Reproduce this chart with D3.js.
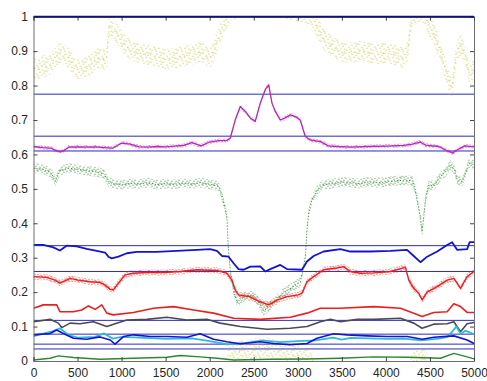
<!DOCTYPE html>
<html>
<head>
<meta charset="utf-8">
<script src="https://cdn.jsdelivr.net/npm/d3@7"></script>
<style>
  body { margin: 0; background: #fff; }
  svg text { font-family: "Liberation Sans", Arial, sans-serif; }
</style>
</head>
<body>
<div id="chart"></div>
<script>
// values, as [sample, value] pairs
const xTicks = [0, 500, 1000, 1500, 2000, 2500, 3000, 3500, 4000, 4500, 5000];
const yTicks = [0, 0.1, 0.2, 0.3, 0.4, 0.5, 0.6, 0.7, 0.8, 0.9, 1];
const refLevels = [1.0, 0.775, 0.653, 0.61, 0.335, 0.26, 0.118, 0.078, 0.049, 0.035];

// yellow goes above 1 and shows again at the bottom (wraps)
const yellow = [[0,0.85],[50,0.845],[100,0.86],[150,0.855],[200,0.865],[250,0.88],[300,0.895],[350,0.89],[400,0.88],[450,0.86],[500,0.845],[550,0.85],[600,0.855],[650,0.86],[700,0.875],[750,0.88],[800,0.875],[830,0.88],[860,0.975],[900,0.962],[950,0.95],[1000,0.933],[1050,0.915],[1100,0.904],[1200,0.895],[1300,0.89],[1400,0.885],[1500,0.875],[1600,0.88],[1700,0.885],[1800,0.89],[1900,0.9],[2000,0.88],[2050,0.9],[2100,0.94],[2150,0.97],[2200,1.0],[2250,1.02],[2300,1.025],[2400,1.032],[2500,1.035],[2600,1.04],[2700,1.037],[2800,1.025],[2900,1.02],[3000,1.015],[3100,1.006],[3160,1.0],[3200,0.98],[3250,0.955],[3300,0.933],[3400,0.91],[3500,0.9],[3600,0.895],[3700,0.9],[3800,0.895],[3900,0.89],[4000,0.895],[4100,0.89],[4200,0.88],[4250,0.9],[4280,0.98],[4320,1.005],[4400,1.015],[4450,1.005],[4480,0.975],[4530,0.96],[4600,0.913],[4650,0.87],[4700,0.826],[4750,0.79],[4780,0.85],[4800,0.894],[4850,0.918],[4900,0.89],[4950,0.826],[5000,0.85]];

const magenta = [[0,0.623],[100,0.62],[200,0.618],[250,0.612],[300,0.607],[350,0.612],[400,0.621],[500,0.622],[600,0.621],[700,0.622],[800,0.62],[900,0.618],[950,0.626],[1000,0.633],[1100,0.63],[1200,0.622],[1300,0.621],[1400,0.623],[1500,0.622],[1600,0.624],[1700,0.626],[1800,0.634],[1900,0.625],[2000,0.636],[2100,0.64],[2200,0.641],[2233,0.647],[2290,0.7],[2347,0.739],[2403,0.725],[2460,0.706],[2517,0.696],[2574,0.749],[2630,0.788],[2670,0.802],[2707,0.749],[2744,0.725],[2801,0.7],[2858,0.706],[2915,0.715],[2972,0.71],[3028,0.7],[3085,0.652],[3142,0.642],[3256,0.637],[3347,0.625],[3445,0.623],[3600,0.621],[3800,0.623],[4000,0.624],[4200,0.626],[4300,0.63],[4390,0.636],[4450,0.627],[4600,0.623],[4700,0.61],[4760,0.604],[4800,0.612],[4900,0.625],[5000,0.622]];

const greenMid = [[0,0.56],[100,0.558],[200,0.546],[250,0.522],[300,0.553],[400,0.56],[500,0.557],[600,0.553],[700,0.55],[800,0.544],[850,0.52],[900,0.515],[1000,0.512],[1100,0.516],[1200,0.514],[1300,0.518],[1400,0.512],[1500,0.515],[1600,0.513],[1700,0.517],[1800,0.514],[1900,0.518],[2000,0.513],[2100,0.508],[2150,0.47],[2195,0.42],[2210,0.332],[2233,0.265],[2270,0.206],[2310,0.17],[2400,0.188],[2500,0.19],[2560,0.17],[2610,0.145],[2660,0.155],[2720,0.168],[2835,0.197],[2950,0.216],[3030,0.23],[3085,0.3],[3104,0.38],[3123,0.43],[3160,0.468],[3220,0.497],[3275,0.51],[3400,0.516],[3500,0.52],[3600,0.518],[3700,0.515],[3800,0.52],[3900,0.518],[4000,0.52],[4100,0.523],[4200,0.525],[4300,0.524],[4330,0.5],[4355,0.468],[4390,0.42],[4411,0.375],[4430,0.42],[4450,0.47],[4485,0.51],[4550,0.51],[4620,0.536],[4680,0.55],[4730,0.57],[4780,0.555],[4810,0.526],[4866,0.52],[4910,0.55],[4940,0.575],[5000,0.57]];

const blueHigh = [[0,0.337],[112,0.337],[225,0.33],[300,0.321],[377,0.335],[490,0.333],[604,0.326],[718,0.32],[812,0.315],[850,0.303],[888,0.298],[964,0.303],[1059,0.313],[1172,0.317],[1400,0.317],[1627,0.32],[1855,0.323],[2005,0.325],[2082,0.32],[2139,0.305],[2214,0.303],[2271,0.284],[2327,0.267],[2384,0.265],[2460,0.274],[2574,0.275],[2630,0.26],[2688,0.267],[2801,0.279],[2877,0.267],[3048,0.265],[3104,0.289],[3180,0.305],[3293,0.318],[3483,0.325],[3597,0.318],[3824,0.318],[4051,0.32],[4240,0.323],[4316,0.305],[4392,0.287],[4468,0.303],[4582,0.318],[4695,0.337],[4752,0.345],[4790,0.33],[4809,0.323],[4922,0.325],[4950,0.345],[5000,0.345]];

const redHigh = [[0,0.245],[150,0.243],[244,0.235],[300,0.226],[415,0.24],[510,0.235],[642,0.23],[756,0.228],[812,0.221],[870,0.208],[907,0.207],[964,0.226],[1040,0.25],[1134,0.255],[1286,0.257],[1475,0.257],[1665,0.26],[1855,0.265],[2082,0.263],[2195,0.255],[2252,0.235],[2290,0.206],[2327,0.192],[2450,0.187],[2574,0.172],[2670,0.163],[2764,0.177],[2877,0.187],[3009,0.192],[3048,0.197],[3104,0.23],[3180,0.245],[3293,0.265],[3445,0.27],[3520,0.274],[3597,0.26],[3710,0.255],[3861,0.256],[4051,0.26],[4222,0.272],[4260,0.235],[4316,0.211],[4373,0.197],[4411,0.177],[4468,0.2],[4582,0.216],[4695,0.235],[4771,0.24],[4847,0.211],[4922,0.245],[5000,0.26]];

const redLow = [[0,0.153],[112,0.163],[263,0.163],[300,0.143],[453,0.143],[547,0.148],[623,0.16],[700,0.15],[775,0.163],[832,0.139],[907,0.134],[1134,0.141],[1362,0.153],[1589,0.158],[1816,0.148],[2044,0.139],[2271,0.124],[2574,0.121],[2915,0.127],[3104,0.139],[3256,0.153],[3483,0.153],[3861,0.158],[4165,0.153],[4316,0.139],[4411,0.129],[4543,0.141],[4695,0.143],[4771,0.166],[4847,0.158],[4922,0.141],[5000,0.141]];

const gray = [[0,0.114],[188,0.121],[282,0.11],[320,0.097],[415,0.11],[528,0.108],[680,0.114],[832,0.1],[926,0.108],[1059,0.119],[1286,0.121],[1514,0.127],[1741,0.119],[1968,0.121],[2119,0.11],[2347,0.1],[2650,0.092],[2915,0.095],[3104,0.1],[3256,0.114],[3370,0.121],[3483,0.114],[3673,0.121],[3861,0.121],[4165,0.124],[4316,0.11],[4411,0.095],[4543,0.107],[4695,0.108],[4771,0.114],[4847,0.085],[4922,0.108],[5000,0.112]];

const cyan = [[0,0.072],[200,0.085],[300,0.095],[400,0.075],[500,0.068],[700,0.07],[800,0.08],[900,0.065],[1000,0.07],[1200,0.068],[1500,0.064],[1800,0.066],[2000,0.058],[2200,0.048],[2400,0.052],[2600,0.06],[2800,0.055],[3000,0.058],[3200,0.06],[3400,0.068],[3500,0.062],[3600,0.067],[3800,0.066],[4000,0.064],[4200,0.065],[4400,0.06],[4600,0.065],[4700,0.07],[4800,0.1],[4850,0.078],[4900,0.088],[5000,0.078]];

const blueLow = [[0,0.076],[188,0.08],[263,0.09],[339,0.08],[453,0.066],[604,0.063],[756,0.07],[870,0.061],[926,0.049],[1021,0.071],[1134,0.076],[1324,0.071],[1514,0.071],[1741,0.069],[1892,0.079],[2044,0.063],[2195,0.056],[2347,0.05],[2574,0.056],[2725,0.051],[2915,0.047],[3104,0.051],[3218,0.066],[3407,0.079],[3559,0.076],[3786,0.073],[4014,0.071],[4241,0.071],[4411,0.063],[4543,0.069],[4771,0.073],[4922,0.061],[5000,0.051]];

const greenLow = [[0,0.003],[188,0.008],[282,0.015],[453,0.01],[756,0.005],[1134,0.008],[1514,0.011],[1665,0.016],[1892,0.012],[2082,0.008],[2271,0.003],[2700,0.005],[3104,0.006],[3483,0.008],[3861,0.012],[4241,0.011],[4620,0.008],[4771,0.022],[4922,0.012],[5000,0.006]];

const W = 487, H = 381;
const margin = { top: 16.7, right: 13, bottom: 20, left: 33.5 };
const width = W - margin.left - margin.right,
  height = H - margin.top - margin.bottom;

const svg = d3.select("#chart").append("svg")
  .attr("width", W)
  .attr("height", H);
const defs = svg.append("defs");
defs.append("clipPath").attr("id", "plotClip")
  .append("rect").attr("width", width).attr("height", height);

// speckle textures for the noisy series
function dotPattern(id, color, tw, th, dots) {
  const p = defs.append("pattern").attr("id", id)
    .attr("patternUnits", "userSpaceOnUse")
    .attr("width", tw).attr("height", th);
  dots.forEach(d => p.append("rect")
    .attr("x", d[0]).attr("y", d[1])
    .attr("width", 1).attr("height", 1)
    .attr("fill", color));
}
dotPattern("pYellow", "#c4c22c", 13, 9,
  [[0, 0], [6, 1], [10, 2], [3, 3], [8, 4], [12, 5], [1, 6], [5, 7], [9, 8], [11, 0], [4, 5]]);
dotPattern("pGreen", "#2a8a2a", 11, 7,
  [[0, 0], [4, 0], [8, 1], [2, 2], [6, 3], [10, 3], [1, 4], [5, 5], [9, 5], [3, 6], [7, 6]]);
dotPattern("pRed", "#e82020", 9, 5,
  [[0, 0], [3, 0], [6, 1], [1, 2], [4, 2], [7, 3], [2, 4], [5, 4], [8, 4]]);
dotPattern("pMagenta", "#b828b8", 9, 5,
  [[0, 0], [3, 0], [6, 1], [1, 2], [4, 2], [7, 3], [2, 4], [5, 4], [8, 4]]);

const g = svg.append("g")
  .attr("transform", "translate(" + margin.left + "," + margin.top + ")");

let x = d3.scaleLinear().domain([0, 5000]).range([0, width]);
let y = d3.scaleLinear().domain([0, 1]).range([height, 0]);

const plot = g.append("g").attr("clip-path", "url(#plotClip)");

// reference levels
plot.selectAll(".ref")
  .data(refLevels.slice(1))
  .enter().append("line")
  .attr("class", "ref")
  .attr("x1", 0).attr("x2", width)
  .attr("y1", d => y(d)).attr("y2", d => y(d))
  .style("stroke", "#2a2ac4")
  .style("stroke-width", 1);

const series = [
  { data: yellow, color: "#c4c22c", spread: 0.03, fill: "pYellow", line: 0.8, dash: "1,4", wrap: true },
  { data: magenta, color: "#b828b8", spread: 0.006, fill: "pMagenta", line: 1.3 },
  { data: greenMid, color: "#2a8a2a", spread: 0.014, fill: "pGreen", line: 1.0, dash: "1,2" },
  { data: blueHigh, color: "#1414d0", spread: 0, line: 1.8 },
  { data: redHigh, color: "#e82020", spread: 0.009, fill: "pRed", line: 1.4 },
  { data: redLow, color: "#e82020", spread: 0, line: 1.6 },
  { data: gray, color: "#4a4a55", spread: 0, line: 1.6 },
  { data: cyan, color: "#30b8dc", spread: 0, line: 1.8 },
  { data: blueLow, color: "#1414d0", spread: 0, line: 1.6 },
  { data: greenLow, color: "#2a8a2a", spread: 0, line: 1.4 }
];

series.forEach(s => {
  const shifts = s.wrap ? [0, 1] : [0];
  shifts.forEach(k => {
    if (s.spread > 0) {
      const band = d3.area()
        .x(d => x(d[0]))
        .y0(d => y(d[1] - k - s.spread))
        .y1(d => y(d[1] - k + s.spread));
      plot.append("path").datum(s.data)
        .attr("d", band)
        .attr("fill", "url(#" + s.fill + ")");
    }
    const line = d3.line()
      .x(d => x(d[0]))
      .y(d => y(d[1] - k));
    plot.append("path").datum(s.data)
      .attr("d", line)
      .attr("fill", "none")
      .attr("stroke", s.color)
      .attr("stroke-width", s.line)
      .attr("stroke-dasharray", s.dash || null)
      .attr("stroke-linejoin", "round");
  });
});

// axes, ticks point inward like matlab
const fmt = d3.format("~g");
function styleAxis(sel) {
  sel.select(".domain").attr("stroke", "#6e6e6e");
  sel.selectAll(".tick line").attr("stroke", "#444");
  sel.selectAll("text").attr("fill", "#262626").style("font-size", "12px");
}
g.append("g")
  .call(d3.axisLeft(y).tickValues(yTicks).tickFormat(fmt).tickSize(-4).tickPadding(5.5))
  .call(styleAxis);
g.append("g")
  .attr("transform", "translate(" + width + ",0)")
  .call(d3.axisRight(y).tickValues(yTicks).tickFormat("").tickSize(-4))
  .call(styleAxis);
g.append("g")
  .attr("transform", "translate(0," + height + ")")
  .call(d3.axisBottom(x).tickValues(xTicks).tickFormat(fmt).tickSize(-4).tickPadding(7.5))
  .call(styleAxis);
g.append("g")
  .call(d3.axisTop(x).tickValues(xTicks).tickFormat("").tickSize(-4))
  .call(styleAxis);

// level 1 line sits on the top border
g.append("line")
  .attr("x1", 0).attr("x2", width)
  .attr("y1", y(refLevels[0])).attr("y2", y(refLevels[0]))
  .attr("stroke", "#12127a")
  .attr("stroke-width", 2);
</script>
</body>
</html>
